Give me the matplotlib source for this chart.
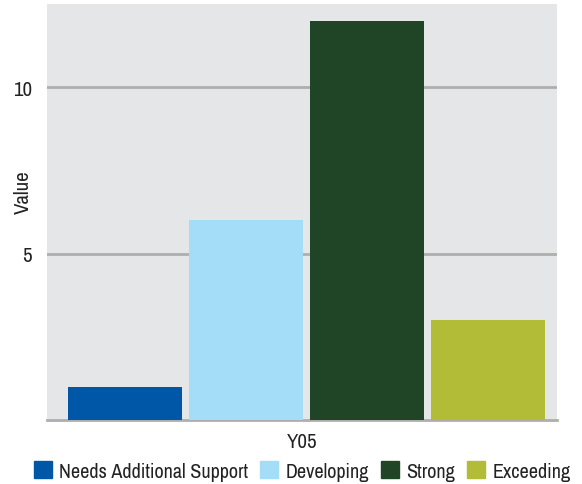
import matplotlib
matplotlib.use("Agg")
import matplotlib.pyplot as plt
from matplotlib.patches import Patch

# achievement bands for a single year group
categories = ["Needs Additional Support", "Developing", "Strong", "Exceeding"]
values = [1, 6, 12, 3]
group_label = "Y05"
colors = ["#0057a8", "#a3ddf7", "#204526", "#b2bc36"]

PANEL = "#e5e6e8"
GRID = "#aeaeae"
INK = "#222222"

plt.rcParams["font.family"] = ["Archivo Narrow", "Roboto Condensed", "DejaVu Sans"]

fig = plt.figure(figsize=(5.82, 4.85), dpi=100)
ax = fig.add_axes([47 / 582, 64 / 485, 510 / 582, 416 / 485])
ax.set_facecolor(PANEL)

offsets = [-1.5, -0.5, 0.5, 1.5]
for off, v, c, name in zip(offsets, values, colors, categories):
    ax.bar(off, v, width=0.942, color=c, label=name, zorder=3)

x_lo, x_hi = -2.145, 2.07
ax.set_ylim(0, 12.5)
ax.set_xlim(x_lo, x_hi)
ax.set_yticks([5, 10])
ax.set_xticks([(x_lo + x_hi) / 2])
ax.set_xticklabels([group_label])
ax.tick_params(length=0, labelsize=15, colors=INK, pad=11)
ax.tick_params(axis="x", pad=9)
ax.yaxis.grid(True, color=GRID, lw=2, zorder=1)
for s in ["top", "right", "left"]:
    ax.spines[s].set_visible(False)
ax.spines["bottom"].set_color(GRID)
ax.spines["bottom"].set_linewidth(2)
ax.set_ylabel("Value", fontsize=15, color=INK)
ax.yaxis.set_label_coords(-0.0275, 0.549)

handles = [Patch(color=c, label=n) for c, n in zip(colors, categories)]
fig.legend(handles=handles, loc="center", bbox_to_anchor=(0.519, 13 / 485), ncol=4,
           frameon=False, fontsize=14.5, handlelength=0.9, handleheight=0.9,
           handletextpad=0.35, columnspacing=0.6, labelcolor=INK)

fig.savefig("out.png", dpi=100, facecolor="white")
